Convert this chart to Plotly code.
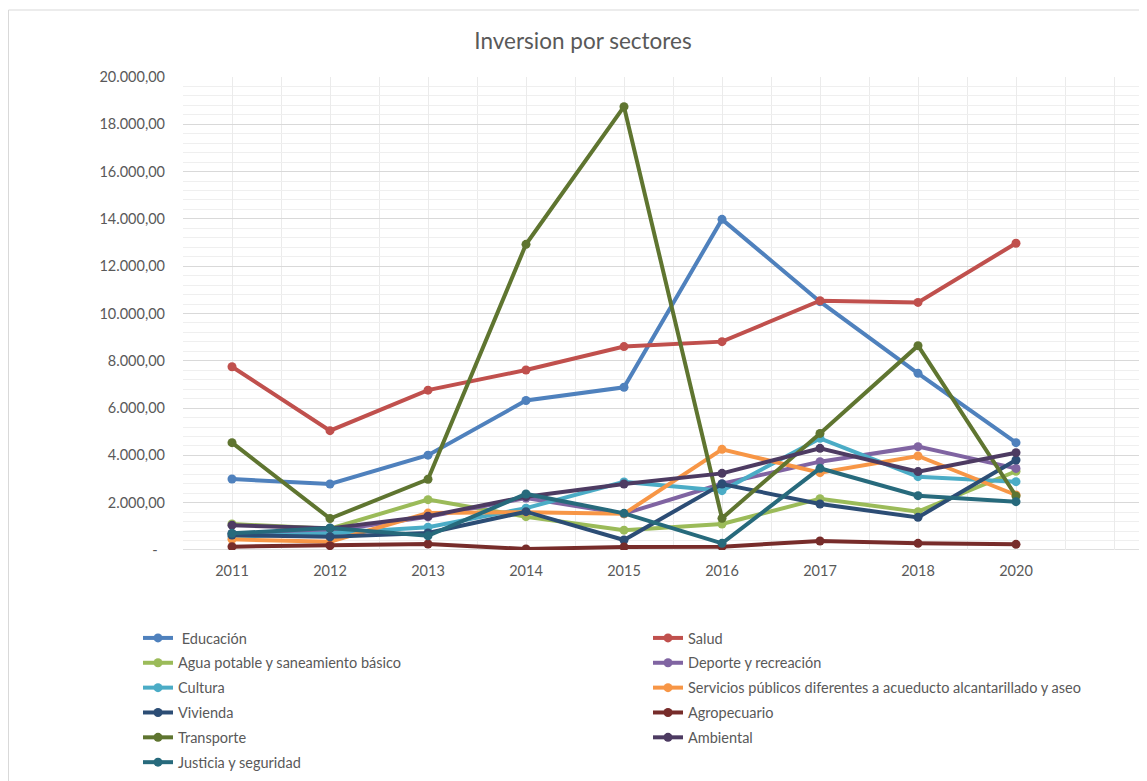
import plotly.graph_objects as go

years = ["2011", "2012", "2013", "2014", "2015", "2016", "2017", "2018", "2020", ""]

educacion = [3000, 2790, 4010, 6320, 6880, 13980, 10500, 7470, 4540]
salud = [7750, 5045, 6760, 7610, 8600, 8810, 10540, 10470, 12970]
agua = [1100, 900, 2130, 1410, 840, 1100, 2170, 1620, 3330]
deporte = [700, 800, 1400, 2200, 1530, 2800, 3735, 4370, 3450]
cultura = [560, 705, 960, 1770, 2880, 2510, 4720, 3100, 2890]
servicios = [450, 352, 1560, 1600, 1530, 4257, 3270, 3975, 2325]
vivienda = [630, 560, 720, 1620, 423, 2790, 1945, 1380, 3805]
agropecuario = [141, 183, 254, 42, 130, 141, 380, 282, 240]
transporte = [4540, 1330, 2990, 12925, 18745, 1340, 4930, 8640, 2283]
ambiental = [1050, 915, 1430, 2255, 2790, 3240, 4300, 3315, 4115]
justicia = [705, 930, 600, 2370, 1550, 282, 3454, 2297, 2044]

series_names = [
    "Educación", "Salud", "Agua potable y saneamiento básico", "Deporte y recreación",
    "Cultura", "Servicios públicos diferentes a acueducto alcantarillado y aseo",
    "Vivienda", "Agropecuario", "Transporte", "Ambiental", "Justicia y seguridad",
]
series_values = [educacion, salud, agua, deporte, cultura, servicios,
                 vivienda, agropecuario, transporte, ambiental, justicia]
colors = ["#4F81BD", "#C0504D", "#9BBB59", "#8064A2", "#4BACC6", "#F79646",
          "#2C4D75", "#772C2A", "#5F7530", "#4D3B62", "#276A7C"]
legend_col = ["legend", "legend2", "legend", "legend2", "legend", "legend2",
              "legend", "legend2", "legend", "legend2", "legend"]

y_tickvals = [0, 2000, 4000, 6000, 8000, 10000, 12000, 14000, 16000, 18000, 20000]
y_ticktext = ["-\u00a0\u00a0", "2.000,00", "4.000,00", "6.000,00", "8.000,00",
              "10.000,00", "12.000,00", "14.000,00", "16.000,00", "18.000,00", "20.000,00"]

FONT = "Lato"
TXT = "#595959"
FS = 14.5

fig = go.Figure()
xs = list(range(len(years) - 1))
for name, vals, col, lg in zip(series_names, series_values, colors, legend_col):
    fig.add_trace(go.Scatter(
        x=xs, y=vals, name=(" " + name if name == "Educación" else name),
        mode="lines+markers",
        line=dict(color=col, width=4),
        marker=dict(color=col, size=9),
        legend=lg, legendgroup=name,
    ))

# page has an 8px body margin: figure coordinates = screen - 8
W, H = 1139, 773
L, T = 175, 69
B = H - 542
plot_w = W - L
plot_h = H - T - B
unit = 98.0
x_max = -0.5 + plot_w / unit

fig.update_layout(
    width=W, height=H,
    margin=dict(l=L, r=0, t=T, b=B, autoexpand=False),
    paper_bgcolor="white", plot_bgcolor="white",
    font=dict(family=FONT, color=TXT, size=FS),
    title=dict(text="Inversion por sectores", x=575 / W, xanchor="center",
               y=1 - 33 / H, yanchor="middle", yref="container",
               font=dict(size=22.5, color=TXT, family=FONT)),
    showlegend=True,
    legend=dict(x=(130 - L) / plot_w, xanchor="left", y=-72 / plot_h,
                yanchor="top", orientation="v", tracegroupgap=3,
                font=dict(size=FS, color=TXT, family=FONT), bgcolor="rgba(0,0,0,0)"),
    legend2=dict(x=(640 - L) / plot_w, xanchor="left", y=-72 / plot_h,
                 yanchor="top", orientation="v", tracegroupgap=3,
                 font=dict(size=FS, color=TXT, family=FONT), bgcolor="rgba(0,0,0,0)"),
    xaxis=dict(
        range=[-0.5, x_max], tickmode="array", tickvals=list(range(len(years))),
        ticktext=years, showgrid=True, gridcolor="#ebebeb", gridwidth=1,
        minor=dict(tickmode="array", tickvals=[i - 0.5 for i in range(len(years) + 1)],
                   showgrid=True, gridcolor="#ebebeb", gridwidth=1, ticklen=0),
        showline=False, zeroline=False, ticks="", ticklabelstandoff=10,
        tickfont=dict(size=FS, color=TXT, family=FONT), fixedrange=True,
    ),
    yaxis=dict(
        range=[0, 20000], tickmode="array", tickvals=y_tickvals, ticktext=y_ticktext,
        showgrid=True, gridcolor="#d9d9d9", gridwidth=1,
        minor=dict(dtick=400, tick0=0, showgrid=True, gridcolor="#efefef", gridwidth=1),
        zeroline=False, showline=False, ticks="", ticklabelstandoff=17,
        tickfont=dict(size=FS, color=TXT, family=FONT), fixedrange=True,
    ),
)

fig.add_shape(type="line", xref="x", yref="y", x0=-0.5, x1=x_max, y0=0, y1=0,
              line=dict(color="#bfbfbf", width=1), layer="below")
fig.add_shape(type="rect", xref="paper", yref="paper",
              x0=(0.5 - L) / plot_w, x1=1.2, y0=-2, y1=(542 - 2) / plot_h,
              line=dict(color="#d9d9d9", width=1), layer="below")

fig.write_html("out.html")
